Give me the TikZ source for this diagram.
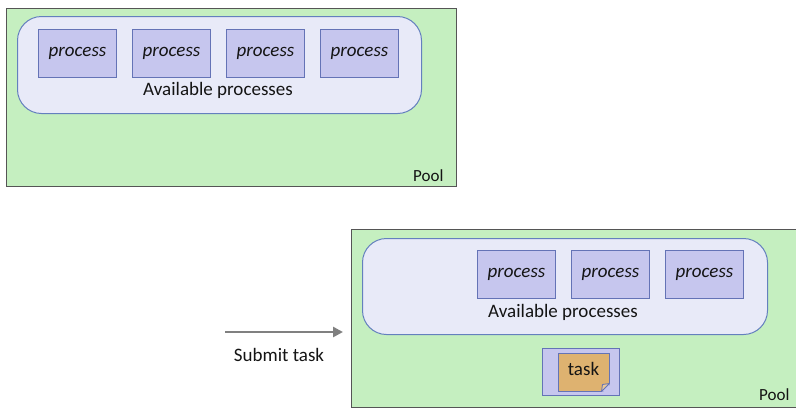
\documentclass[tikz,border=0pt]{standalone}
\usepackage{fontspec}
\setmainfont{Carlito}
\usepackage{tikz}
\usetikzlibrary{positioning, arrows.meta}
\usepackage{xcolor}
\definecolor{poolgreen}{RGB}{197,239,192}
\definecolor{poolline}{RGB}{85,85,85}
\definecolor{availfill}{RGB}{232,234,248}
\definecolor{availline}{RGB}{100,128,190}
\definecolor{procfill}{RGB}{198,198,238}
\definecolor{procline}{RGB}{100,115,182}
\definecolor{taskfill}{RGB}{222,178,112}
\definecolor{arrowgray}{RGB}{128,128,128}
\definecolor{textdark}{RGB}{20,20,20}

\begin{document}
\begin{tikzpicture}[x=1pt, y=-1pt,
    pool/.style={draw=poolline, fill=poolgreen, line width=1.2pt, anchor=north west, inner sep=0pt, minimum height=178pt},
    avail/.style={draw=availline, fill=availfill, line width=1pt, rounded corners=24pt, anchor=north west, inner sep=0pt},
    proc/.style={draw=procline, fill=procfill, line width=1pt, minimum width=78pt, minimum height=48pt, inner sep=0pt, text=textdark, font=\fontsize{19}{22}\selectfont\itshape},
    caption/.style={text=textdark, font=\fontsize{19}{22}\selectfont},
    poollabel/.style={text=textdark, font=\fontsize{17}{20}\selectfont, anchor=base east},
    arrow/.style={-{Triangle[length=10pt, width=10pt]}, line width=2.6pt, draw=arrowgray},
    node distance=15pt
]
\useasboundingbox (0,0) rectangle (796,408);

% pool before the task is submitted
\node[pool, minimum width=450pt] (pool1) at (6,8) {};
\node[avail, minimum width=404pt, minimum height=97pt] (avail1) at (17,16) {};
\node[proc] (p1) at (77.5,53) {process};
\node[proc, right=of p1] (p2) {process};
\node[proc, right=of p2] (p3) {process};
\node[proc, right=of p3] (p4) {process};
\node[caption] (cap1) at (218,90) {Available processes};
\node[poollabel] (lab1) at (447,181) {Pool};

% pool after the task is submitted
\node[pool, minimum width=446pt] (pool2) at (351,229) {};
\node[avail, minimum width=405pt, minimum height=96pt] (avail2) at (362,238) {};
\node[proc] (q1) at (516.5,274) {process};
\node[proc, right=of q1] (q2) {process};
\node[proc, right=of q2] (q3) {process};
\node[caption] (cap2) at (563,312) {Available processes};
\node[poollabel] (lab2) at (793,400) {Pool};

% task waiting in a slot
\node[proc, minimum width=77pt, minimum height=47pt] (slot) at (580.5,371.5) {};
\node[draw=procline, fill=taskfill, line width=1pt, minimum width=51pt, minimum height=38pt, inner sep=0pt, text depth=7pt, caption] (task) at (583.5,372) {task};
\fill[procfill] ([shift={(1pt,-1pt)}]task.south east) -- ([yshift=8pt]task.south east) -- ([xshift=-8pt]task.south east) -- cycle;
\draw[procline, fill=taskfill!70!white, line width=0.8pt, line join=round] ([yshift=8pt]task.south east) -- ([xshift=-8pt]task.south east) -- ([shift={(-7pt,7pt)}]task.south east) -- cycle;

% submit arrow
\coordinate (submit) at (225,332);
\draw[arrow, shorten >=8pt] (submit) -- (submit -| pool2.west);
\node[caption] (subcap) at (279,355) {Submit task};
\end{tikzpicture}
\end{document}
